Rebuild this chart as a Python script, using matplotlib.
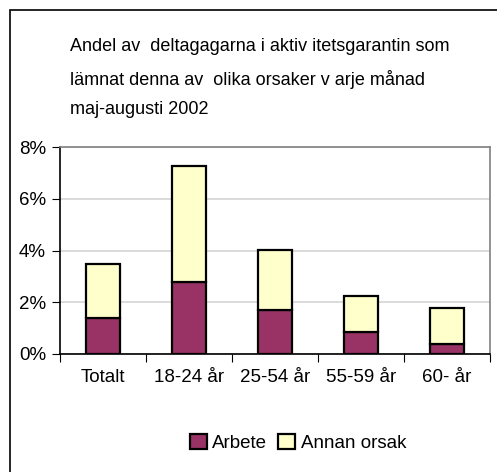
import numpy as np
import matplotlib.pyplot as plt
from matplotlib.patches import Rectangle
from matplotlib.ticker import FuncFormatter

plt.rcParams['font.family'] = ['Liberation Sans', 'DejaVu Sans']

# Data (percent)
categories = ['Totalt', '18-24 år', '25-54 år', '55-59 år', '60- år']
arbete = [1.39, 2.77, 1.69, 0.85, 0.39]
annan = [2.09, 4.50, 2.33, 1.40, 1.39]
title = ('Andel av  deltagagarna i aktiv itetsgarantin som\n'
         'lämnat denna av  olika orsaker v arje månad\n'
         'maj-augusti 2002')

fig = plt.figure(figsize=(4.97, 4.72), dpi=100)
W, H = 497, 472
# outer frame (left and top edges visible, rest runs off the canvas)
fig.patches.append(Rectangle((10 / W, -0.05), 1.1, (H - 10) / H + 0.05,
                             transform=fig.transFigure, fill=False,
                             edgecolor='black', lw=1.2))

ax = fig.add_axes([60 / W, 1 - 354 / H, 430 / W, 207 / H])
x = np.arange(len(categories))
ax.bar(x, arbete, width=0.4, color='#993366', edgecolor='black', lw=1.6,
       label='Arbete', zorder=3)
ax.bar(x, annan, width=0.4, bottom=arbete, color='#FFFFCC', edgecolor='black',
       lw=1.6, label='Annan orsak', zorder=3)

ax.set_xlim(-0.5, len(categories) - 0.5)
ax.set_ylim(0, 8)
ax.set_yticks([0, 2, 4, 6, 8])
ax.yaxis.set_major_formatter(FuncFormatter(lambda v, p: f'{v:.0f}%'))
ax.yaxis.grid(True, color='#d4d4d4', lw=1.2, zorder=0)
ax.set_xticks(np.arange(len(categories) + 1) - 0.5)
ax.set_xticklabels([])
ax.set_xticks(x, minor=True)
ax.set_xticklabels(categories, minor=True)
ax.tick_params(axis='x', which='minor', length=0, pad=11, labelsize=13.5)
ax.tick_params(axis='x', which='major', length=6, direction='out')
ax.tick_params(axis='y', length=6, direction='out', labelsize=13.5, pad=4)

for s in ['top', 'right']:
    ax.spines[s].set_color('#808080')
    ax.spines[s].set_linewidth(1.2)
for s in ['left', 'bottom']:
    ax.spines[s].set_linewidth(1.2)

fig.text(70 / W, 1 - 38 / H, title, ha='left', va='top', fontsize=13,
         linespacing=1.97)

fig.legend(loc='center', bbox_to_anchor=(298 / W, 1 - 443 / H), ncol=2,
           frameon=False, fontsize=13.5, handlelength=0.9, handleheight=0.9,
           handletextpad=0.3, columnspacing=0.6)

fig.savefig('out.png', dpi=100)
